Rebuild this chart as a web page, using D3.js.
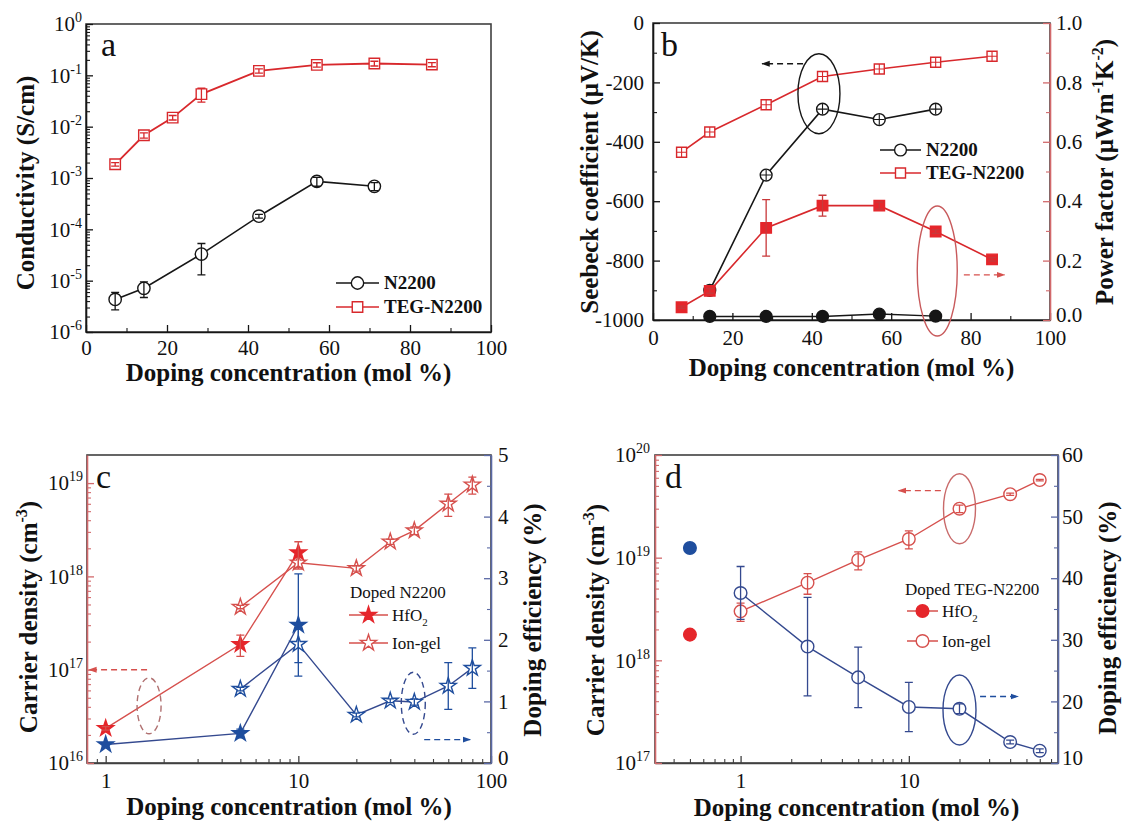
<!DOCTYPE html>
<html lang="en">
<head>
<meta charset="UTF-8">
<title>Doping figure</title>
<script src="https://cdn.jsdelivr.net/npm/d3@7"></script>
<style>
    * { margin: 0; padding: 0; }
    body { background: #fff; }
    svg text { font-family: 'Liberation Serif', 'Times New Roman', Times, serif; }
</style>
</head>
<body>
<div id="chart"></div>
<script>
    // ---------- data ----------
    // (a) conductivity
    const concA_N2200 = [7.2, 14.3, 28.5, 42.7, 57, 71.2];
    const condA_N2200 = [4.3e-6, 7.1e-6, 3.3e-5, 1.8e-4, 8.6e-4, 6.9e-4];
    const condA_N2200Err = [1.6e-6, 2.4e-6, 2e-5, 1.5e-5, 1.7e-4, 1.2e-4];
    const concA_TEG = [7.2, 14.3, 21.4, 28.5, 42.7, 57, 71.2, 85.4];
    const condA_TEG = [1.85e-3, 6.8e-3, 1.5e-2, 4.3e-2, 1.22e-1, 1.6e-1, 1.7e-1, 1.62e-1];
    const condA_TEGErr = [1.5e-4, 8e-4, 1.5e-3, 1.3e-2, 1.2e-2, 1.6e-2, 1.8e-2, 1.5e-2];

    // (b) seebeck + power factor
    const concB_N2200 = [14.3, 28.5, 42.7, 57, 71.2];
    const seebeckB_N2200 = [-900, -512, -290, -325, -290];
    const pfB_N2200 = [0.012, 0.012, 0.012, 0.02, 0.013];
    const concB_TEG = [7.2, 14.3, 28.5, 42.7, 57, 71.2, 85.4];
    const seebeckB_TEG = [-435, -367, -275, -180, -155, -132, -112];
    const pfB_TEG = [0.043, 0.098, 0.31, 0.385, 0.385, 0.298, 0.204];
    const pfB_TEGErr = [0.004, 0.008, 0.095, 0.035, 0.012, 0.006, 0.006];

    // (c) doped N2200
    const concC_Hf = [1, 5, 10];
    const carrierC_Hf = [2.35e16, 1.87e17, 1.8e18];
    const carrierC_HfErr = [1e15, 4.8e16, 5.5e17];
    const effC_Hf = [0.3, 0.48, 2.24];
    const effC_HfErr = [0.02, 0.07, 0.83];
    const concC_Gel = [5, 10, 20, 30, 40, 60, 80];
    const carrierC_Gel = [4.7e17, 1.4e18, 1.22e18, 2.35e18, 3.1e18, 6e18, 9.6e18];
    const carrierC_GelErr = [2e16, 2e17, 8e16, 1.5e17, 3e17, 1.6e18, 2e18];
    const effC_Gel = [1.2, 1.93, 0.78, 1.01, 0.99, 1.25, 1.54];
    const effC_GelErr = [0.03, 0.3, 0.03, 0.03, 0.05, 0.38, 0.33];

    // (d) doped TEG-N2200
    const concD_Hf = [0.5];
    const carrierD_Hf = [1.78e18];
    const effD_Hf = [44.9];
    const concD_Gel = [1, 2.5, 5, 10, 20, 40, 60];
    const carrierD_Gel = [3.0e18, 5.7e18, 9.5e18, 1.52e19, 3.0e19, 4.15e19, 5.7e19];
    const carrierD_GelErr = [6e17, 1.3e18, 1.9e18, 3e18, 2.5e18, 1e18, 1e18];
    const effD_Gel = [37.6, 28.9, 23.9, 19.1, 18.8, 13.4, 12.0];
    const effD_GelErr = [4.3, 8, 4.9, 4, 0.8, 0.3, 0.3];

    // tick values
    const ticksLinX = [0, 20, 40, 60, 80, 100];
    const minorLinX = [10, 30, 50, 70, 90];
    const ticksA_y = [1e-6, 1e-5, 1e-4, 1e-3, 1e-2, 1e-1, 1];
    const ticksB_left = [-1000, -800, -600, -400, -200, 0];
    const minorB_left = [-900, -700, -500, -300, -100];
    const ticksB_right = [0, 0.2, 0.4, 0.6, 0.8, 1.0];
    const minorB_right = [0.1, 0.3, 0.5, 0.7, 0.9];
    const ticksC_x = [1, 10, 100];
    const ticksC_left = [1e16, 1e17, 1e18, 1e19];
    const ticksC_right = [0, 1, 2, 3, 4, 5];
    const minorC_right = [0.5, 1.5, 2.5, 3.5, 4.5];
    const ticksD_x = [1, 10];
    const ticksD_left = [1e17, 1e18, 1e19, 1e20];
    const ticksD_right = [10, 20, 30, 40, 50, 60];
    const minorD_right = [15, 25, 35, 45, 55];

    // ---------- style ----------
    const C = {
        black: '#161616', frame: '#404040',
        red: '#e5262b', redLine: '#d6504d', redAxis: '#d2696b',
        blue: '#1f4e9e', blueLine: '#34498f', blueAxis: '#5a69a5'
    };

    const svg = d3.select('#chart').append('svg')
        .attr('width', 1124).attr('height', 821)
        .style('background', '#fff');

    const defs = svg.append('defs');
    [['arrBlack', C.black], ['arrRed', C.redLine], ['arrBlue', C.blue]].forEach(([id, c]) => {
        defs.append('marker').attr('id', id).attr('viewBox', '0 0 10 10')
            .attr('refX', 9).attr('refY', 5).attr('markerWidth', 6).attr('markerHeight', 6)
            .attr('orient', 'auto')
            .append('path').attr('d', 'M0,1.5L10,5L0,8.5Z').attr('fill', c);
    });

    // ---------- helpers ----------
    function logMinor(lo, hi) {
        const out = [];
        for (let e = Math.floor(Math.log10(lo)); e <= Math.ceil(Math.log10(hi)); e++) {
            for (let k = 2; k <= 9; k++) {
                const v = k * Math.pow(10, e);
                if (v > lo * 1.001 && v < hi * 0.999) out.push(v);
            }
        }
        return out;
    }

    function frame(x0, y0, x1, y1) {
        svg.append('rect').attr('x', x0).attr('y', y0)
            .attr('width', x1 - x0).attr('height', y1 - y0)
            .attr('fill', 'none').attr('stroke', C.frame).attr('stroke-width', 1.6);
    }

    function addAxis(gen, scale, at, major, minor, fmt, color, pad) {
        const gm = svg.append('g').attr('transform', at).attr('color', color)
            .call(gen(scale).tickValues(minor).tickSize(-4).tickSizeOuter(0).tickFormat(''));
        gm.select('.domain').attr('stroke-width', 1.6);
        gm.selectAll('.tick line').attr('stroke-width', 1.1);

        const g = svg.append('g').attr('transform', at).attr('color', color)
            .call(gen(scale).tickValues(major).tickSize(-7).tickSizeOuter(0)
                .tickPadding(pad).tickFormat(fmt === 'log' ? () => '' : fmt));
        g.select('.domain').remove();
        g.selectAll('.tick line').attr('stroke-width', 1.3);
        g.attr('font-size', 21).attr('font-family', null);
        g.selectAll('.tick text').attr('fill', '#111');

        // 10^n labels
        if (fmt === 'log') {
            g.selectAll('.tick text').each(function (d) {
                const t = d3.select(this);
                t.append('tspan').text('10');
                t.append('tspan').attr('dy', -9).attr('font-size', 14)
                    .text(Math.round(Math.log10(d)));
            });
        }
        // lift the lowest right-hand label a little so it clears the x label below
        if (gen === d3.axisRight) {
            const lo = scale.domain()[0];
            g.selectAll('.tick text').filter(d => d === lo).attr('dy', '0.05em');
        }
        return g;
    }

    // text with super/subscripts, parts = ['abc', ['2', 'sub'], ...]
    function label(x, y, parts, o = {}) {
        const size = o.size || 25;
        const t = svg.append('text')
            .attr('transform', `translate(${x},${y})` + (o.rot ? ' rotate(-90)' : ''))
            .attr('text-anchor', o.anchor || 'middle')
            .attr('font-size', size)
            .attr('font-weight', o.bold === false ? 'normal' : 'bold')
            .attr('fill', '#111');
        let cur = 0;
        parts.forEach(p => {
            const [txt, kind] = Array.isArray(p) ? p : [p, null];
            const off = kind === 'sup' ? -0.42 * size : kind === 'sub' ? 0.3 * size : 0;
            t.append('tspan').attr('dy', off - cur)
                .attr('font-size', kind ? size * 0.64 : size).text(txt);
            cur = off;
        });
        return t;
    }

    const SHAPE = { circle: d3.symbolCircle, square: d3.symbolSquare, star: d3.symbolStar };

    function marker(g, x, y, o) {
        g.append('path')
            .attr('transform', `translate(${x},${y})`)
            .attr('d', d3.symbol().type(SHAPE[o.shape]).size(o.size)())
            .attr('fill', o.filled ? o.color : '#fff')
            .attr('stroke', o.color).attr('stroke-width', 1.4);
        if (o.cross) {
            const h = Math.sqrt(o.size) / 2;
            g.append('path').attr('d', `M${x - h},${y}H${x + h}M${x},${y - h}V${y + h}`)
                .attr('stroke', o.color).attr('stroke-width', 1.1);
        }
    }

    function lineOf(sx, sy, xs, ys, color, w) {
        svg.append('path')
            .attr('d', d3.line().x(d => sx(d[0])).y(d => sy(d[1]))(d3.zip(xs, ys)))
            .attr('fill', 'none').attr('stroke', color).attr('stroke-width', w || 1.5);
    }

    function points(sx, sy, xs, ys, errs, o) {
        const g = svg.append('g');
        xs.forEach((x, i) => marker(g, sx(x), sy(ys[i]), o));
        if (!errs) return;
        xs.forEach((x, i) => {
            const e = errs[i];
            if (!e) return;
            const px = sx(x), y0 = sy(ys[i] - e), y1 = sy(ys[i] + e);
            g.append('path')
                .attr('d', `M${px},${y0}V${y1}M${px - 4},${y0}H${px + 4}M${px - 4},${y1}H${px + 4}`)
                .attr('fill', 'none').attr('stroke', o.errColor || o.color).attr('stroke-width', 1.3);
        });
    }

    function ellipse(cx, cy, rx, ry, color, dashed) {
        svg.append('ellipse').attr('cx', cx).attr('cy', cy).attr('rx', rx).attr('ry', ry)
            .attr('fill', 'none').attr('stroke', color).attr('stroke-width', 1.4)
            .attr('stroke-dasharray', dashed ? '6,4' : null);
    }

    function arrow(x0, x1, y, color, id) {
        svg.append('line').attr('x1', x0).attr('x2', x1).attr('y1', y).attr('y2', y)
            .attr('stroke', color).attr('stroke-width', 1.4)
            .attr('stroke-dasharray', '6,4').attr('marker-end', `url(#${id})`);
    }

    function legendRow(x0, x1, y, lineColor, mk, parts, o) {
        svg.append('line').attr('x1', x0).attr('x2', x1).attr('y1', y).attr('y2', y)
            .attr('stroke', lineColor).attr('stroke-width', 1.5);
        marker(svg, (x0 + x1) / 2, y, mk);
        label(x1 + o.gap, y + o.size * 0.33, parts, { anchor: 'start', size: o.size, bold: o.bold });
    }

    // ================= panel a =================
    const xA = d3.scaleLinear().domain([0, 100]).range([86, 491]);
    const yA = d3.scaleLog().domain([1e-6, 1]).range([332, 24]);
    frame(86, 24, 491, 332);
    addAxis(d3.axisBottom, xA, 'translate(0,332)', ticksLinX, minorLinX, d => d, C.black, 8);
    addAxis(d3.axisLeft, yA, 'translate(86,0)', ticksA_y, logMinor(1e-6, 1), 'log', C.black, 4);

    lineOf(xA, yA, concA_N2200, condA_N2200, C.black, 1.6);
    lineOf(xA, yA, concA_TEG, condA_TEG, '#d8282c', 1.8);
    points(xA, yA, concA_N2200, condA_N2200, condA_N2200Err, { shape: 'circle', size: 120, color: C.black });
    points(xA, yA, concA_TEG, condA_TEG, condA_TEGErr, { shape: 'square', size: 110, color: '#d8282c' });

    label(101, 56, ['a'], { size: 34, bold: false, anchor: 'start' });
    label(288.5, 381, ['Doping concentration (mol %)']);
    label(34, 183, ['Conductivity (S/cm)'], { rot: true });
    legendRow(336, 379, 283, C.black, { shape: 'circle', size: 120, color: C.black }, ['N2200'], { size: 19, gap: 5 });
    legendRow(336, 379, 307, '#d8282c', { shape: 'square', size: 110, color: '#d8282c' }, ['TEG-N2200'], { size: 19, gap: 5 });

    // ================= panel b =================
    const xB = d3.scaleLinear().domain([0, 100]).range([653, 1050]);
    const yBl = d3.scaleLinear().domain([-1000, 0]).range([320, 23]);
    const yBr = d3.scaleLinear().domain([0, 1]).range([320, 23]);
    frame(653, 23, 1050, 320);
    addAxis(d3.axisBottom, xB, 'translate(0,320)', ticksLinX, minorLinX, d => d, C.black, 10);
    addAxis(d3.axisLeft, yBl, 'translate(653,0)', ticksB_left, minorB_left, d => String(d), C.black, 9);
    addAxis(d3.axisRight, yBr, 'translate(1050,0)', ticksB_right, minorB_right, d3.format('.1f'), C.redAxis, 6);

    lineOf(xB, yBl, concB_TEG, seebeckB_TEG, '#d8282c', 1.6);
    lineOf(xB, yBl, concB_N2200, seebeckB_N2200, C.black, 1.6);
    lineOf(xB, yBr, concB_TEG, pfB_TEG, '#d8282c', 1.6);
    lineOf(xB, yBr, concB_N2200, pfB_N2200, C.black, 1.4);
    points(xB, yBl, concB_TEG, seebeckB_TEG, null, { shape: 'square', size: 100, color: '#d8282c', cross: true });
    points(xB, yBl, concB_N2200, seebeckB_N2200, null, { shape: 'circle', size: 110, color: C.black, cross: true });
    points(xB, yBr, concB_TEG, pfB_TEG, pfB_TEGErr, { shape: 'square', size: 110, color: '#e5262b', filled: true, errColor: '#c8383a' });
    points(xB, yBr, concB_N2200, pfB_N2200, null, { shape: 'circle', size: 110, color: C.black, filled: true });

    ellipse(xB(41.8), yBl(-238), 21, 40, C.black, false);
    arrow(xB(37.8), xB(27.5), yBl(-137), C.black, 'arrBlack');
    ellipse(xB(71.6), yBr(0.165), 20, 65, '#c85a5c', false);
    arrow(xB(78.3), xB(88.5), yBr(0.152), C.redLine, 'arrRed');

    label(661, 56, ['b'], { size: 34, bold: false, anchor: 'start' });
    label(851.5, 376, ['Doping concentration (mol %)']);
    label(598, 172, ['Seebeck coefficient (\u03bcV/K)'], { rot: true });
    label(1113, 172, ['Power factor (\u03bcWm', ['-1', 'sup'], 'K', ['-2', 'sup'], ')'], { rot: true });
    legendRow(880, 921, 150, C.black, { shape: 'circle', size: 110, color: C.black }, ['N2200'], { size: 19, gap: 5 });
    legendRow(880, 921, 173, '#d8282c', { shape: 'square', size: 100, color: '#d8282c' }, ['TEG-N2200'], { size: 19, gap: 5 });

    // ================= panel c =================
    const xC = d3.scaleLog().domain([0.8, 100]).range([87, 491]);
    const yCl = d3.scaleLog().domain([1e16, 2e19]).range([763, 455]);
    const yCr = d3.scaleLinear().domain([0, 5]).range([763, 455]);
    frame(87, 455, 491, 763);
    addAxis(d3.axisBottom, xC, 'translate(0,763)', ticksC_x, logMinor(0.8, 100), d => d, C.frame, 10);
    addAxis(d3.axisLeft, yCl, 'translate(87,0)', ticksC_left, logMinor(1e16, 2e19), 'log', C.redAxis, 4);
    addAxis(d3.axisRight, yCr, 'translate(491,0)', ticksC_right, minorC_right, d => d, C.blueAxis, 7);

    lineOf(xC, yCl, concC_Hf, carrierC_Hf, C.redLine, 1.4);
    lineOf(xC, yCl, concC_Gel, carrierC_Gel, C.redLine, 1.4);
    lineOf(xC, yCr, concC_Hf, effC_Hf, C.blueLine, 1.4);
    lineOf(xC, yCr, concC_Gel, effC_Gel, C.blueLine, 1.4);
    points(xC, yCl, concC_Gel, carrierC_Gel, carrierC_GelErr, { shape: 'star', size: 80, color: C.redLine });
    points(xC, yCl, concC_Hf, carrierC_Hf, carrierC_HfErr, { shape: 'star', size: 80, color: C.red, filled: true, errColor: C.redLine });
    points(xC, yCr, concC_Gel, effC_Gel, effC_GelErr, { shape: 'star', size: 80, color: C.blue });
    points(xC, yCr, concC_Hf, effC_Hf, effC_HfErr, { shape: 'star', size: 80, color: C.blue, filled: true });

    ellipse(xC(1.68), yCl(4.1e16), 12, 28, '#b07070', true);
    arrow(xC(1.64), xC(0.82), yCl(1e17), C.redLine, 'arrRed');
    ellipse(xC(39.5), yCr(0.97), 12, 31, C.blueLine, true);
    arrow(xC(45), xC(78), yCr(0.38), C.blue, 'arrBlue');

    label(96, 488, ['c'], { size: 34, bold: false, anchor: 'start' });
    label(289, 815, ['Doping concentration (mol %)']);
    label(37, 617, ['Carrier density (cm', ['-3', 'sup'], ')'], { rot: true });
    label(541, 620, ['Doping efficiency (%)'], { rot: true });
    label(350, 598, ['Doped N2200'], { anchor: 'start', size: 17, bold: false });
    legendRow(349, 388, 615, C.redLine, { shape: 'star', size: 80, color: C.red, filled: true }, ['HfO', ['2', 'sub']], { size: 17, gap: 4, bold: false });
    legendRow(349, 388, 643, C.redLine, { shape: 'star', size: 80, color: C.redLine }, ['Ion-gel'], { size: 17, gap: 4, bold: false });

    // ================= panel d =================
    const xD = d3.scaleLog().domain([0.31, 77]).range([655, 1058]);
    const yDl = d3.scaleLog().domain([1e17, 1e20]).range([763, 455]);
    const yDr = d3.scaleLinear().domain([10, 60]).range([763, 455]);
    frame(655, 455, 1058, 763);
    addAxis(d3.axisBottom, xD, 'translate(0,763)', ticksD_x, logMinor(0.31, 77), d => d, C.frame, 10);
    addAxis(d3.axisLeft, yDl, 'translate(655,0)', ticksD_left, logMinor(1e17, 1e20), 'log', C.redAxis, 5);
    addAxis(d3.axisRight, yDr, 'translate(1058,0)', ticksD_right, minorD_right, d => d, C.blueAxis, 4);

    lineOf(xD, yDl, concD_Gel, carrierD_Gel, C.redLine, 1.4);
    lineOf(xD, yDr, concD_Gel, effD_Gel, C.blueLine, 1.4);
    points(xD, yDl, concD_Gel, carrierD_Gel, carrierD_GelErr, { shape: 'circle', size: 125, color: C.redLine });
    points(xD, yDr, concD_Gel, effD_Gel, effD_GelErr, { shape: 'circle', size: 125, color: C.blueLine });
    points(xD, yDl, concD_Hf, carrierD_Hf, null, { shape: 'circle', size: 125, color: C.red, filled: true });
    points(xD, yDr, concD_Hf, effD_Hf, null, { shape: 'circle', size: 125, color: C.blue, filled: true });

    ellipse(xD(20), yDl(3.0e19), 16, 35, '#c96a6a', false);
    arrow(xD(15.5), xD(8.7), yDl(4.5e19), C.redLine, 'arrRed');
    ellipse(xD(20), yDr(18.6), 16.5, 35, C.blueLine, false);
    arrow(xD(26.5), xD(44.6), yDr(20.8), C.blue, 'arrBlue');

    label(665, 488, ['d'], { size: 34, bold: false, anchor: 'start' });
    label(856.5, 816, ['Doping concentration (mol %)']);
    label(604, 620, ['Carrier density (cm', ['-3', 'sup'], ')'], { rot: true });
    label(1116, 618, ['Doping efficiency (%)'], { rot: true });
    label(905, 595, ['Doped TEG-N2200'], { anchor: 'start', size: 17, bold: false });
    legendRow(907, 938, 611, C.redLine, { shape: 'circle', size: 125, color: C.red, filled: true }, ['HfO', ['2', 'sub']], { size: 17, gap: 4, bold: false });
    legendRow(907, 938, 641, C.redLine, { shape: 'circle', size: 125, color: C.redLine }, ['Ion-gel'], { size: 17, gap: 4, bold: false });
</script>
</body>
</html>
